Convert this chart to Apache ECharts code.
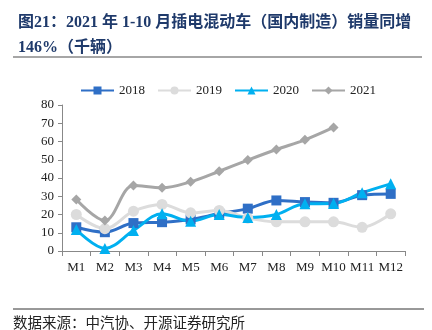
<!DOCTYPE html>
<html><head><meta charset="utf-8">
<script src="https://cdn.jsdelivr.net/npm/echarts@6/dist/echarts.min.js"></script>
<style>html,body{margin:0;padding:0;background:#fff}#c{width:432px;height:330px}</style>
</head><body><div id="c"></div>
<script>
const categories = ['M1','M2','M3','M4','M5','M6','M7','M8','M9','M10','M11','M12'];
const s2018 = [13, 10.3, 15.3, 15.8, 17.3, 20.5, 23.2, 27.7, 26.8, 26.4, 30.6, 31.3];
const s2019 = [20, 12.2, 21.8, 25.5, 20.9, 22.2, 18, 16, 16, 16, 13, 20.4];
const s2020 = [11.8, 1.4, 11.2, 20.4, 16.3, 20, 18.4, 20, 25.9, 26, 31.9, 36.8];
const s2021 = [28.2, 16.7, 35.9, 34.6, 37.9, 43.7, 49.8, 55.6, 60.9, 67.7];
const yTicks = [0, 10, 20, 30, 40, 50, 60, 70, 80];
const titleText = '图21：2021 年 1-10 月插电混动车（国内制造）销量同增\n146%（千辆）';
const sourceText = '数据来源：中汽协、开源证券研究所';

const serif = '"Liberation Serif","Times New Roman","Noto Sans CJK SC",serif';
const chart = echarts.init(document.getElementById('c'), null, {renderer: 'canvas'});
function mk(name, data, color, symbol, size) {
  return {name, type: 'line', data, symbol, symbolSize: size, showSymbol: true, smooth: 0.35,
    lineStyle: {color, width: 3}, itemStyle: {color}, z: 2};
}
chart.setOption({
  animation: false,
  title: {
    text: titleText, left: 13, top: 5,
    textStyle: {fontFamily: serif, fontWeight: 'bold', fontSize: 16, color: '#1f3a6b', lineHeight: 25}
  },
  legend: {
    top: 79, left: 75, itemWidth: 33, itemHeight: 10, itemGap: 12,
    textStyle: {fontFamily: serif, fontSize: 13, color: '#222'},
    data: ['2018','2019','2020','2021']
  },
  grid: {left: 62, right: 27, top: 105, bottom: 79, containLabel: false},
  xAxis: {
    type: 'category', data: categories, boundaryGap: true,
    axisLine: {lineStyle: {color: '#888', width: 1}},
    axisTick: {show: true, length: 5, lineStyle: {color: '#888'}},
    axisLabel: {fontFamily: serif, fontSize: 13, color: '#222', margin: 10, interval: 0}
  },
  yAxis: {
    type: 'value', min: yTicks[0], max: yTicks[yTicks.length-1], interval: 10,
    axisLine: {show: true, lineStyle: {color: '#888', width: 1}},
    axisTick: {show: true, length: 4, lineStyle: {color: '#888'}},
    splitLine: {show: false},
    axisLabel: {fontFamily: serif, fontSize: 13, color: '#222', margin: 8}
  },
  series: [
    mk('2018', s2018, '#2f6fc6', 'rect', 10),
    mk('2019', s2019, '#dcdcdc', 'circle', 11),
    mk('2020', s2020, '#00b0f0', 'triangle', 11),
    mk('2021', s2021, '#a6a6a6', 'diamond', 10)
  ],
  graphic: [
    {type: 'line', shape: {x1: 13, y1: 57, x2: 422, y2: 57}, style: {stroke: '#888', lineWidth: 1.5}},
    {type: 'line', shape: {x1: 13, y1: 309, x2: 424, y2: 309}, style: {stroke: '#333', lineWidth: 1}},
    {type: 'text', left: 13, top: 315, style: {text: sourceText, font: '14.5px "Noto Sans CJK SC", sans-serif', fill: '#222'}}
  ]
});
</script></body></html>
